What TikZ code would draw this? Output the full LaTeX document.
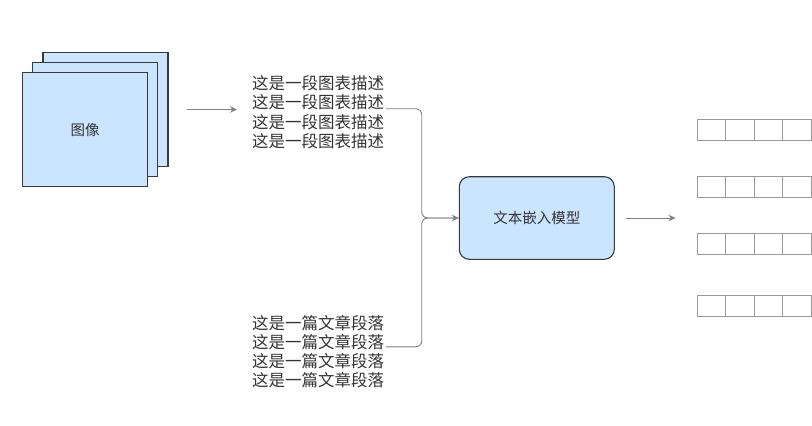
\documentclass[tikz,border=0pt]{standalone}
\usepackage{fontspec}
\newfontfamily\cjk{Noto Sans CJK SC}
\usetikzlibrary{positioning,arrows.meta,calc}
\definecolor{boxfill}{HTML}{CCE5FF}
\definecolor{boxline}{HTML}{36393D}
\definecolor{lnk}{HTML}{808080}
\definecolor{txt}{HTML}{333333}
\definecolor{cellline}{HTML}{9A9A9A}

\begin{document}
\begin{tikzpicture}[
    x=1pt, y=-1pt,
    layer/.style={draw=boxline, fill=boxfill, line width=1.1pt, minimum width=125pt, minimum height=114pt, inner sep=0pt, font=\cjk\fontsize{14.5}{17}\selectfont, text=txt},
    model/.style={draw=boxline, fill=boxfill, line width=1.1pt, rounded corners=10pt, minimum width=155pt, minimum height=82.6pt, font=\cjk\fontsize{14.5}{17}\selectfont, text=txt},
    txtline/.style={anchor=west, inner sep=0pt, font=\cjk\fontsize{16.5}{19}\selectfont, text=txt},
    conn/.style={draw=lnk, line width=0.9pt},
    arr/.style={-{Stealth[length=7pt, width=6.5pt]}},
    cell/.style={draw=cellline, line width=0.9pt, minimum width=28.5pt, minimum height=21pt, inner sep=0pt},
]
\useasboundingbox (0,0) rectangle (812,426);
\node[layer] (back) at (105.5,109.5) {};
\node[layer] (mid) at (95.3,119.6) {};
\node[layer] (front) at (85.2,129.7) {图像};
\foreach \i in {1,...,4}
  \node[txtline] (desc\i) at (252,{83.3+19.4*(\i-1)}) {这是一段图表描述};
\foreach \i in {1,...,4}
  \node[txtline] (para\i) at (252,{323.3+19*(\i-1)}) {这是一篇文章段落};
\node[model] (model) at (536.8,218) {文本嵌入模型};
\foreach \r/\y in {1/130, 2/187.2, 3/243.8, 4/306.3}
  \foreach \c in {1,...,4}
    \node[cell] (v\r-\c) at ({697+28.5*(\c-0.5)},\y) {};
\coordinate (join) at ($(model.west)+(-37,0)$);
\coordinate (imgend) at (desc1.west |- back.east);
\coordinate (vecin) at (v1-1.west |- model.east);
\draw[conn, arr] ([xshift=18pt]back.east) -- ([xshift=-15pt]imgend);
\draw[conn, rounded corners=6pt] ($(desc2.east)+(1.5,6)$) -| (join) -- (model.west);
\draw[conn, arr, rounded corners=6pt] ($(para2.east)+(1.5,4.5)$) -| (join) -- (model.west);
\draw[conn, arr] ([xshift=11pt]model.east) -- ([xshift=-21pt]vecin);
\end{tikzpicture}
\end{document}
